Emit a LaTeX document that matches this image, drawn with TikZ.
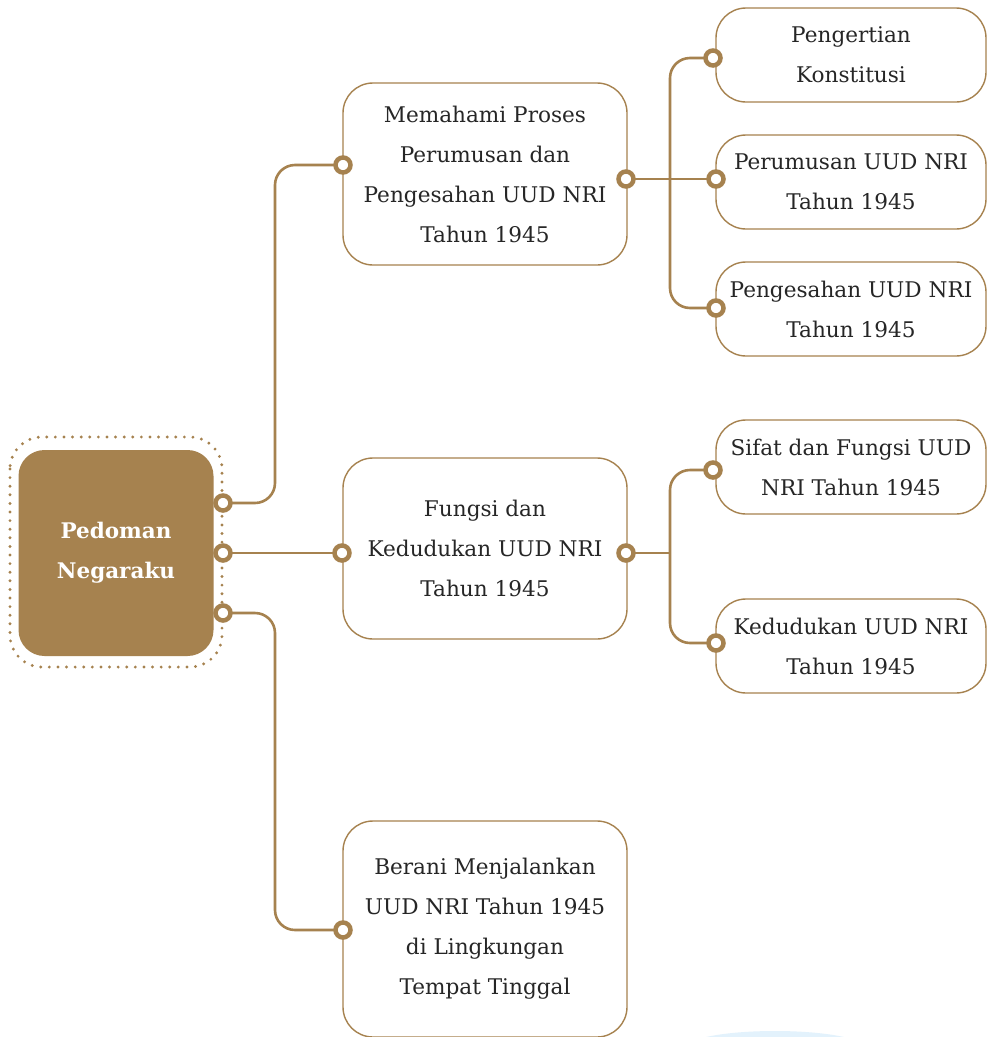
\documentclass[tikz,border=0pt]{standalone}
\usepackage{fontspec}
\setmainfont{DejaVu Serif}
\definecolor{bronze}{HTML}{A6824F}
\definecolor{ink}{HTML}{262626}
\definecolor{haze}{HTML}{E3F2FC}
\pgfdeclarelayer{bg}
\pgfsetlayers{bg,main}
\tikzset{
  hub/.style={draw=none, fill=bronze, rounded corners=26pt, minimum width=195pt, minimum height=206pt,
    text=white, align=center, font=\fontsize{21.5}{40}\selectfont\bfseries},
  topic/.style={draw=bronze, line width=1.4pt, fill=white, rounded corners=30pt, minimum width=284pt,
    text=ink, align=center, font=\fontsize{21.6}{40}\selectfont},
  leaf/.style={draw=bronze, line width=1.4pt, fill=white, rounded corners=30pt, minimum width=270pt,
    minimum height=94pt, text=ink, align=center, font=\fontsize{21.6}{40}\selectfont},
  port/.style={circle, draw=bronze, line width=4.5pt, fill=white, minimum size=15pt, inner sep=0pt},
  link/.style={draw=bronze, line width=2.6pt, rounded corners=20pt},
}
\begin{document}
\begin{tikzpicture}[x=1pt, y=-1pt]
\useasboundingbox (0,0) rectangle (987,1037);

% central hub with dotted halo
\draw[bronze, line width=3.2pt, dash pattern=on 0pt off 8.6pt, line cap=round, rounded corners=32pt]
  (10,437) rectangle (222,667);
\node[hub] (hub) at (116,553) {Pedoman\\Negaraku};

% second level topics
\node[topic, minimum height=182pt] (ta) at (485,174) {Memahami Proses\\Perumusan dan\\Pengesahan UUD NRI\\Tahun 1945};
\node[topic, minimum height=181pt] (tb) at (485,548.5) {Fungsi dan\\Kedudukan UUD NRI\\Tahun 1945};
\node[topic, minimum height=216pt] (tc) at (485,929) {Berani Menjalankan\\UUD NRI Tahun 1945\\di Lingkungan\\Tempat Tinggal};

% third level leaves
\node[leaf] (a1) at (851,55) {Pengertian\\Konstitusi};
\node[leaf] (a2) at (851,182) {Perumusan UUD NRI\\Tahun 1945};
\node[leaf] (a3) at (851,309) {Pengesahan UUD NRI\\Tahun 1945};
\node[leaf] (b1) at (851,467) {Sifat dan Fungsi UUD\\NRI Tahun 1945};
\node[leaf] (b2) at (851,646) {Kedudukan UUD NRI\\Tahun 1945};

% anchor points of the connectors
\coordinate (h1) at (223,503);
\coordinate (h2) at (223,553);
\coordinate (h3) at (223,613);
\coordinate (tain) at (343,165);
\coordinate (tbin) at (342,553);
\coordinate (tcin) at (343,930);
\coordinate (taout) at (626,179);
\coordinate (tbout) at (626,553);
\coordinate (a1in) at (713,58);
\coordinate (a2in) at (716,179);
\coordinate (a3in) at (716,308);
\coordinate (b1in) at (713,470);
\coordinate (b2in) at (716,643);

\begin{pgfonlayer}{bg}
  \fill[white] (0,0) rectangle (987,1037);
  \begin{scope}
    \clip (0,0) rectangle (987,1037);
    \fill[haze] (775,1047) ellipse[x radius=88, y radius=16];
  \end{scope}
  \draw[link] (h1) -| (275,300) |- (tain);
  \draw[link] (h2) -- (tbin);
  \draw[link] (h3) -| (275,800) |- (tcin);
  \draw[link] (taout) -- (a2in);
  \draw[link] (a1in) -| (670,200) |- (a3in);
  \draw[link] (tbout) -- (670,553);
  \draw[link] (b1in) -| (670,560) |- (b2in);
\end{pgfonlayer}

\foreach \p in {h1,h2,h3,tain,tbin,tcin,taout,tbout,a1in,a2in,a3in,b1in,b2in}
  \node[port] (port-\p) at (\p) {};
\end{tikzpicture}
\end{document}
